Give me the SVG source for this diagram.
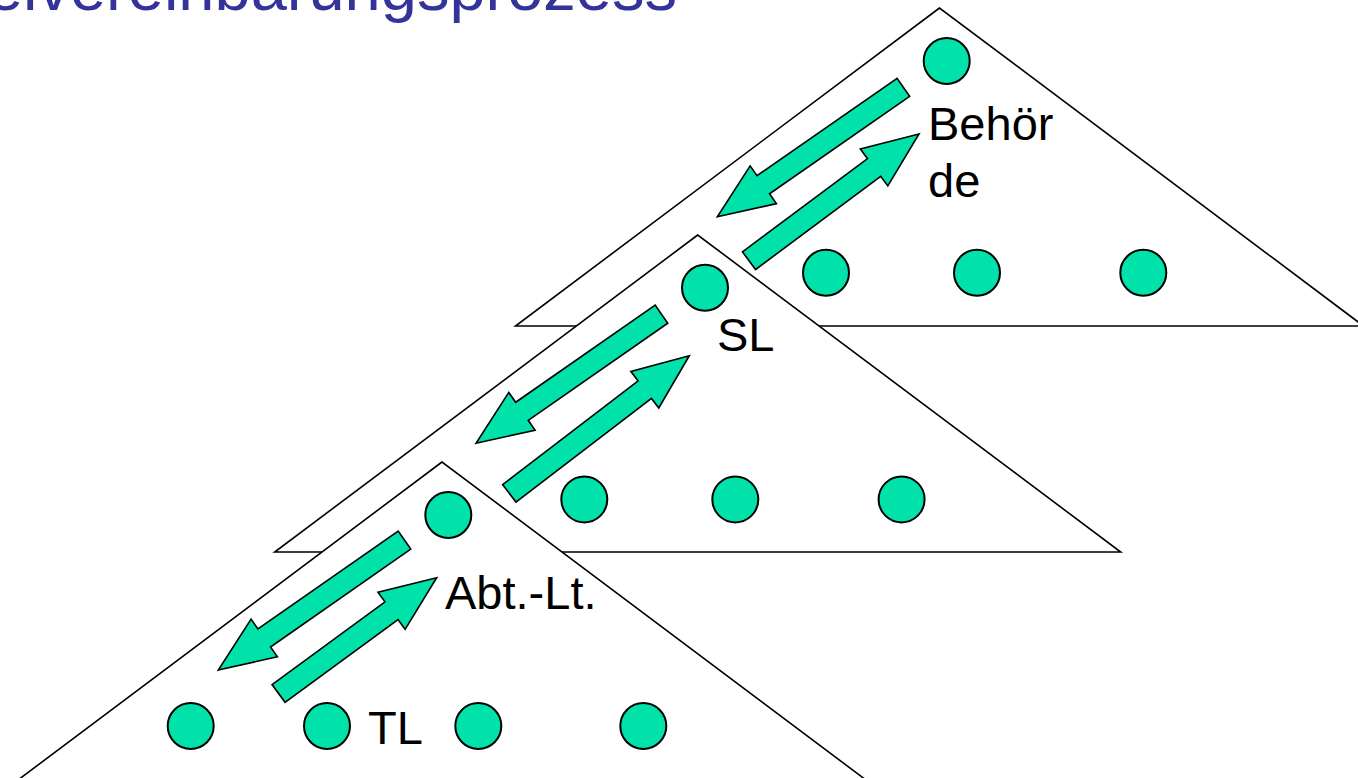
<svg xmlns="http://www.w3.org/2000/svg" width="1358" height="778" viewBox="0 0 1358 778">
  <style>
    .tri{fill:#ffffff;stroke:#000000;stroke-width:1.6;stroke-linejoin:miter}
    .person{fill:#00E2AA;stroke:#000000;stroke-width:2}
    .label{font-family:"Liberation Sans",Arial,sans-serif;font-size:47px;fill:#000000}
    .title{font-family:"Liberation Sans",Arial,sans-serif;font-size:65px;fill:#333399}
    .arrow{fill:#00E2AA;stroke:#000000;stroke-width:1.6;stroke-linejoin:miter}
  </style>
  <rect width="1358" height="778" fill="#ffffff"/>

  <!-- heading, partly above the top edge -->
  <text class="title" x="677" y="10" text-anchor="end">Zielvereinbarungsprozess</text>

  <!-- level 1: authority -->
  <g id="level-behoerde">
    <polygon class="tri" points="939.5,8 515.5,326 1363.5,326"/>
    <circle id="behoerde-head" class="person" cx="946.7" cy="61" r="23"/>
    <circle id="behoerde-1" class="person" cx="826" cy="272.7" r="23"/>
    <circle id="behoerde-2" class="person" cx="977" cy="272.7" r="23"/>
    <circle id="behoerde-3" class="person" cx="1143.3" cy="272.7" r="23"/>
    <text class="label" x="928" y="140">Behör</text>
    <text class="label" x="928" y="197">de</text>
  </g>

  <!-- level 2: SL -->
  <g id="level-sl">
    <polygon class="tri" points="697.7,235 274.7,552 1120.7,552"/>
    <circle id="sl-head" class="person" cx="705" cy="287.7" r="23"/>
    <circle id="sl-1" class="person" cx="584.3" cy="499.4" r="23"/>
    <circle id="sl-2" class="person" cx="735.3" cy="499.4" r="23"/>
    <circle id="sl-3" class="person" cx="901.6" cy="499.4" r="23"/>
    <text class="label" x="717" y="351">SL</text>
  </g>

  <!-- level 3: department -->
  <g id="level-abt">
    <polygon class="tri" points="442,462 18,780 866,780"/>
    <circle id="abt-head" class="person" cx="448.3" cy="515" r="23"/>
    <circle id="tl-1" class="person" cx="190.7" cy="726" r="23"/>
    <circle id="tl-2" class="person" cx="327" cy="726" r="23"/>
    <circle id="tl-3" class="person" cx="478.3" cy="726" r="23"/>
    <circle id="tl-4" class="person" cx="643.3" cy="726" r="23"/>
    <text class="label" x="445" y="609">Abt.-Lt.</text>
    <text class="label" x="368" y="744">TL</text>
  </g>

  <!-- block arrows: tip at local origin, body along -x -->
  <g id="connectors">
    <polygon class="arrow" transform="translate(717.3,216.7) rotate(145.2)" points="0,0 -56,-23 -56,-11 -226.6,-11 -226.6,11 -56,11 -56,23"/>
    <polygon class="arrow" transform="translate(919,134) rotate(-36.7)" points="0,0 -56,-23 -56,-11 -212,-11 -212,11 -56,11 -56,23"/>
    <polygon class="arrow" transform="translate(476,443.3) rotate(145.15)" points="0,0 -56,-23 -56,-11 -226,-11 -226,11 -56,11 -56,23"/>
    <polygon class="arrow" transform="translate(689.3,355.7) rotate(-37.4)" points="0,0 -56,-23 -56,-11 -226.6,-11 -226.6,11 -56,11 -56,23"/>
    <polygon class="arrow" transform="translate(218.3,670) rotate(145.1)" points="0,0 -56,-23 -56,-11 -227,-11 -227,11 -56,11 -56,23"/>
    <polygon class="arrow" transform="translate(436.7,577.7) rotate(-36.2)" points="0,0 -56,-23 -56,-11 -196,-11 -196,11 -56,11 -56,23"/>
  </g>
</svg>
